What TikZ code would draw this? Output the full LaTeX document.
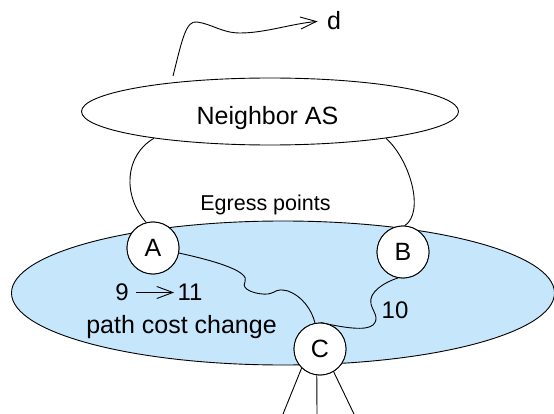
\documentclass[tikz,border=0pt]{standalone}
\usepackage{fontspec}
\setmainfont{Liberation Sans}
\usetikzlibrary{shapes.geometric,arrows.meta}
\definecolor{asblue}{RGB}{198,230,252}
\tikzset{
  every picture/.style={line width=0.9pt},
  big/.style={font=\fontsize{25}{30}\selectfont},
  mid/.style={font=\fontsize{24}{28}\selectfont},
  small/.style={font=\fontsize{21.5}{26}\selectfont},
  router/.style={circle,draw,fill=white,minimum size=52pt,inner sep=0pt,big},
  cloud/.style={ellipse,draw,inner sep=0pt},
  label/.style={inner sep=0pt},
  link/.style={draw,line width=0.9pt},
  barb/.style={-{Straight Barb[length=16pt,width=12pt,line width=0.9pt]}}
}
\begin{document}
\begin{tikzpicture}[x=1pt,y=-1pt]
\fill[white] (0,0) rectangle (554,414);
\useasboundingbox (0,0) rectangle (554,414);
% domains
\node[cloud,fill=asblue,minimum width=543pt,minimum height=144pt] (as) at (283,293) {};
\node[cloud,fill=white,minimum width=377pt,minimum height=67pt] (nas) at (270,111.5) {};
\node[label,big] (nastxt) at (267.5,118) {Neighbor AS};
% routers
\node[router] (A) at (153,248) {};
\node[router] (B) at (403,252) {};
\node[router] (C) at (320,349) {};
% connectors
\draw[link] (nas.193) .. controls (125,155) and (122,195) .. (A.105);
\draw[link] (nas.-13) .. controls (410,160) and (425,212) .. (B.86);
\draw[link] (A.-11) .. controls (220,262) and (250,272) .. (245,282)
  .. controls (240,290) and (258,295) .. (268,294)
  .. controls (278,292) and (275,288) .. (288,291)
  .. controls (302,296) and (312,310) .. (C.101);
\draw[link] (B.259) .. controls (385,282) and (368,292) .. (371,304)
  .. controls (373,312) and (380,318) .. (373,325)
  .. controls (366,331) and (345,328) .. (C.88);
% routers on top
\node[router] at (A) {A};
\node[router] at (B) {B};
\node[router] at (C) {C};
% links leaving C
\coordinate (c1) at (283,414);
\coordinate (c2) at (317,414);
\coordinate (c3) at (354,414);
\draw[link] (C.226) -- (c1);
\draw[link] (C.263) -- (c2);
\draw[link] (C.301) -- (c3);
% route to d
\coordinate (nstart) at (173,76);
\node[label,big] (d) at (334,20.5) {d};
\draw[link,barb,shorten >=9pt] (nstart) .. controls (182,40) and (186,20) .. (197,22)
  .. controls (212,24) and (222,33) .. (240,33)
  .. controls (265,33) and (290,24) .. (d.west);
% texts
\node[label,small] (egress) at (265.5,204.5) {Egress points};
\node[label,mid] (nine) at (122,292.5) {9};
\node[label,mid] (eleven) at (190,292.5) {11};
\draw[link,barb,shorten <=7pt,shorten >=3pt] (nine.east) -- (eleven.west);
\node[label,big] (pcc) at (181.5,327) {path cost change};
\node[label,mid] (ten) at (395,310) {10};
\end{tikzpicture}
\end{document}
